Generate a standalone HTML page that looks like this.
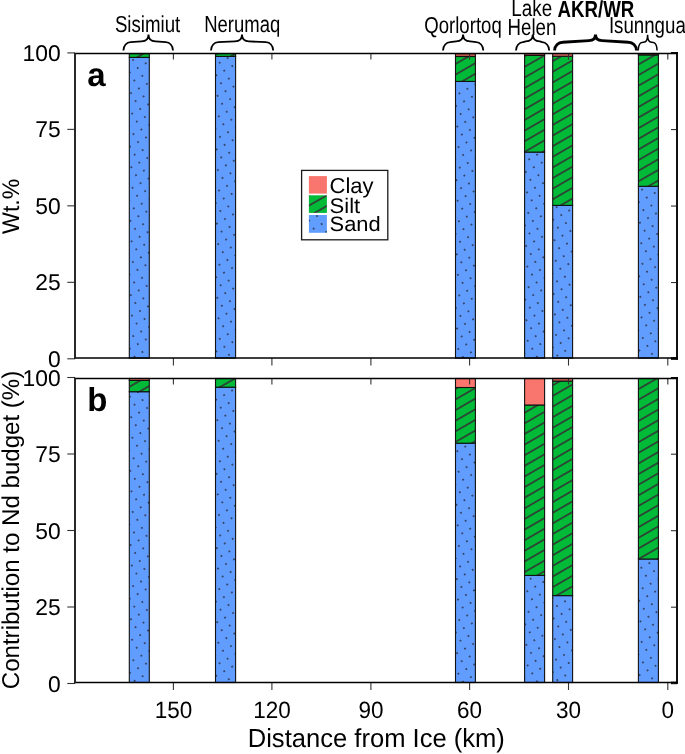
<!DOCTYPE html><html><head><meta charset="utf-8"><title>Grain size and Nd budget</title><style>
html,body{margin:0;padding:0;background:#fff;overflow:hidden;}
svg{display:block;}
text{font-family:"Liberation Sans", Arial, sans-serif;fill:#000;text-rendering:geometricPrecision;}
</style></head><body>
<svg width="685" height="754" viewBox="0 0 685 754">
<defs>
<pattern id="stripe" patternUnits="userSpaceOnUse" width="9.2" height="9.2" patternTransform="rotate(-30)">
<rect width="9.2" height="9.2" fill="#00BA38"/>
<line x1="0" y1="4.6" x2="9.2" y2="4.6" stroke="#333" stroke-width="1.6"/>
</pattern>
<pattern id="dots" patternUnits="userSpaceOnUse" width="9.2" height="9.2" patternTransform="rotate(-30)">
<rect width="9.2" height="9.2" fill="#619CFF"/>
<circle cx="4.6" cy="4.6" r="0.9" fill="#2a2c3a"/>
</pattern>
</defs>
<rect width="685" height="754" fill="#fff"/>
<pattern id="da1" href="#dots" patternTransform="translate(141.75,203.70) rotate(-30) translate(-4.6,-4.6)"/>
<rect x="129.3" y="57.4" width="20" height="300.7" fill="url(#da1)" stroke="#111" stroke-width="1.1"/>
<pattern id="sa1" href="#stripe" patternTransform="translate(139.30,56.00) rotate(-30) translate(0,-4.6)"/>
<rect x="129.3" y="53.6" width="20" height="3.8" fill="url(#sa1)" stroke="#111" stroke-width="1.1"/>
<pattern id="da2" href="#dots" patternTransform="translate(222.80,252.10) rotate(-30) translate(-4.6,-4.6)"/>
<rect x="215.5" y="56.4" width="20.1" height="301.7" fill="url(#da2)" stroke="#111" stroke-width="1.1"/>
<pattern id="sa2" href="#stripe" patternTransform="translate(225.55,59.40) rotate(-30) translate(0,-4.6)"/>
<rect x="215.5" y="53.6" width="20.1" height="2.8" fill="url(#sa2)" stroke="#111" stroke-width="1.1"/>
<pattern id="da3" href="#dots" patternTransform="translate(469.30,257.70) rotate(-30) translate(-4.6,-4.6)"/>
<rect x="455.5" y="81.4" width="19.9" height="276.7" fill="url(#da3)" stroke="#111" stroke-width="1.1"/>
<pattern id="sa3" href="#stripe" patternTransform="translate(465.45,68.86) rotate(-30) translate(0,-4.6)"/>
<rect x="455.5" y="56.5" width="19.9" height="24.9" fill="url(#sa3)" stroke="#111" stroke-width="1.1"/>
<rect x="455.5" y="53.6" width="19.9" height="2.9" fill="#C65A50" stroke="#111" stroke-width="1.1"/>
<pattern id="da4" href="#dots" patternTransform="translate(538.70,249.40) rotate(-30) translate(-4.6,-4.6)"/>
<rect x="524.6" y="152.1" width="20" height="206" fill="url(#da4)" stroke="#111" stroke-width="1.1"/>
<pattern id="sa4" href="#stripe" patternTransform="translate(534.60,103.60) rotate(-30) translate(0,-4.6)"/>
<rect x="524.6" y="55.4" width="20" height="96.7" fill="url(#sa4)" stroke="#111" stroke-width="1.1"/>
<rect x="524.6" y="53.6" width="20" height="1.8" fill="#C65A50" stroke="#111" stroke-width="1.1"/>
<pattern id="da5" href="#dots" patternTransform="translate(559.10,248.20) rotate(-30) translate(-4.6,-4.6)"/>
<rect x="552.7" y="205.4" width="19.9" height="152.7" fill="url(#da5)" stroke="#111" stroke-width="1.1"/>
<pattern id="sa5" href="#stripe" patternTransform="translate(562.65,119.20) rotate(-30) translate(0,-4.6)"/>
<rect x="552.7" y="56.2" width="19.9" height="149.2" fill="url(#sa5)" stroke="#111" stroke-width="1.1"/>
<rect x="552.7" y="53.6" width="19.9" height="2.6" fill="#F8766D" stroke="#111" stroke-width="1.1"/>
<pattern id="da6" href="#dots" patternTransform="translate(645.85,251.20) rotate(-30) translate(-4.6,-4.6)"/>
<rect x="638.4" y="186.3" width="20" height="171.8" fill="url(#da6)" stroke="#111" stroke-width="1.1"/>
<pattern id="sa6" href="#stripe" patternTransform="translate(648.40,122.50) rotate(-30) translate(0,-4.6)"/>
<rect x="638.4" y="54.9" width="20" height="131.4" fill="url(#sa6)" stroke="#111" stroke-width="1.1"/>
<rect x="638.4" y="53.6" width="20" height="1.3" fill="#F8766D" stroke="#111" stroke-width="1.1"/>
<line x1="67.3" y1="52.9" x2="75" y2="52.9" stroke="#333" stroke-width="1.1"/>
<line x1="671" y1="53.1" x2="677" y2="53.1" stroke="#333" stroke-width="1.1"/>
<text transform="translate(60.65,60.95) scale(0.9983,1)" font-size="22.89" text-anchor="end" id="yta100">100</text>
<line x1="67.3" y1="129.375" x2="75" y2="129.375" stroke="#333" stroke-width="1.1"/>
<line x1="671" y1="129.575" x2="677" y2="129.575" stroke="#333" stroke-width="1.1"/>
<text transform="translate(60.65,137.43) scale(0.9983,1)" font-size="22.89" text-anchor="end" id="yta75">75</text>
<line x1="67.3" y1="205.85" x2="75" y2="205.85" stroke="#333" stroke-width="1.1"/>
<line x1="671" y1="206.05" x2="677" y2="206.05" stroke="#333" stroke-width="1.1"/>
<text transform="translate(60.65,213.90) scale(0.9983,1)" font-size="22.89" text-anchor="end" id="yta50">50</text>
<line x1="67.3" y1="282.325" x2="75" y2="282.325" stroke="#333" stroke-width="1.1"/>
<line x1="671" y1="282.525" x2="677" y2="282.525" stroke="#333" stroke-width="1.1"/>
<text transform="translate(60.65,290.38) scale(0.9983,1)" font-size="22.89" text-anchor="end" id="yta25">25</text>
<line x1="67.3" y1="358.8" x2="75" y2="358.8" stroke="#333" stroke-width="1.1"/>
<line x1="671" y1="359" x2="677" y2="359" stroke="#333" stroke-width="1.1"/>
<text transform="translate(60.65,366.85) scale(0.9983,1)" font-size="22.89" text-anchor="end" id="yta0">0</text>
<line x1="173.4" y1="53.6" x2="173.4" y2="59.6" stroke="#333" stroke-width="1.1"/>
<line x1="173.4" y1="358.1" x2="173.4" y2="365.6" stroke="#333" stroke-width="1.1"/>
<line x1="271.9" y1="53.6" x2="271.9" y2="59.6" stroke="#333" stroke-width="1.1"/>
<line x1="271.9" y1="358.1" x2="271.9" y2="365.6" stroke="#333" stroke-width="1.1"/>
<line x1="370.9" y1="53.6" x2="370.9" y2="59.6" stroke="#333" stroke-width="1.1"/>
<line x1="370.9" y1="358.1" x2="370.9" y2="365.6" stroke="#333" stroke-width="1.1"/>
<line x1="469.6" y1="53.6" x2="469.6" y2="59.6" stroke="#333" stroke-width="1.1"/>
<line x1="469.6" y1="358.1" x2="469.6" y2="365.6" stroke="#333" stroke-width="1.1"/>
<line x1="568.5" y1="53.6" x2="568.5" y2="59.6" stroke="#333" stroke-width="1.1"/>
<line x1="568.5" y1="358.1" x2="568.5" y2="365.6" stroke="#333" stroke-width="1.1"/>
<line x1="667.8" y1="53.6" x2="667.8" y2="59.6" stroke="#333" stroke-width="1.1"/>
<line x1="667.8" y1="358.1" x2="667.8" y2="365.6" stroke="#333" stroke-width="1.1"/>
<path d="M74.1,53.6 H677 M74.1,358.1 H677" stroke="#000" stroke-width="1.5" fill="none"/>
<path d="M75,52.95 V358.75" stroke="#1e1e1e" stroke-width="1.9" fill="none"/>
<path d="M677,52.1 V359.7" stroke="#111" stroke-width="2" fill="none"/>
<rect x="670.9" y="52.1" width="7" height="1.8" fill="#000"/>
<rect x="670.9" y="357.2" width="7" height="2.5" fill="#000"/>
<pattern id="db1" href="#dots" patternTransform="translate(138.90,614.60) rotate(-30) translate(-4.6,-4.6)"/>
<rect x="129.3" y="391.7" width="20" height="290.8" fill="url(#db1)" stroke="#111" stroke-width="1.1"/>
<pattern id="sb1" href="#stripe" patternTransform="translate(139.30,381.10) rotate(-30) translate(0,-4.6)"/>
<rect x="129.3" y="380.4" width="20" height="11.3" fill="url(#sb1)" stroke="#111" stroke-width="1.1"/>
<rect x="129.3" y="378.5" width="20" height="1.9" fill="#F8766D" stroke="#111" stroke-width="1.1"/>
<pattern id="db2" href="#dots" patternTransform="translate(225.10,617.60) rotate(-30) translate(-4.6,-4.6)"/>
<rect x="215.5" y="387.2" width="20.1" height="295.3" fill="url(#db2)" stroke="#111" stroke-width="1.1"/>
<pattern id="sb2" href="#stripe" patternTransform="translate(225.55,383.90) rotate(-30) translate(0,-4.6)"/>
<rect x="215.5" y="378.5" width="20.1" height="8.7" fill="url(#sb2)" stroke="#111" stroke-width="1.1"/>
<pattern id="db3" href="#dots" patternTransform="translate(462.60,607.50) rotate(-30) translate(-4.6,-4.6)"/>
<rect x="455.5" y="443.2" width="19.9" height="239.3" fill="url(#db3)" stroke="#111" stroke-width="1.1"/>
<pattern id="sb3" href="#stripe" patternTransform="translate(465.45,414.96) rotate(-30) translate(0,-4.6)"/>
<rect x="455.5" y="387.5" width="19.9" height="55.7" fill="url(#sb3)" stroke="#111" stroke-width="1.1"/>
<rect x="455.5" y="378.5" width="19.9" height="9" fill="#F8766D" stroke="#111" stroke-width="1.1"/>
<pattern id="db4" href="#dots" patternTransform="translate(536.50,607.20) rotate(-30) translate(-4.6,-4.6)"/>
<rect x="524.6" y="575.4" width="20" height="107.1" fill="url(#db4)" stroke="#111" stroke-width="1.1"/>
<pattern id="sb4" href="#stripe" patternTransform="translate(534.60,428.20) rotate(-30) translate(0,-4.6)"/>
<rect x="524.6" y="405" width="20" height="170.4" fill="url(#sb4)" stroke="#111" stroke-width="1.1"/>
<rect x="524.6" y="378.5" width="20" height="26.5" fill="#F8766D" stroke="#111" stroke-width="1.1"/>
<pattern id="db5" href="#dots" patternTransform="translate(561.60,613.90) rotate(-30) translate(-4.6,-4.6)"/>
<rect x="552.7" y="595.6" width="19.9" height="86.9" fill="url(#db5)" stroke="#111" stroke-width="1.1"/>
<pattern id="sb5" href="#stripe" patternTransform="translate(562.65,485.80) rotate(-30) translate(0,-4.6)"/>
<rect x="552.7" y="381" width="19.9" height="214.6" fill="url(#sb5)" stroke="#111" stroke-width="1.1"/>
<rect x="552.7" y="378.5" width="19.9" height="2.5" fill="#F8766D" stroke="#111" stroke-width="1.1"/>
<pattern id="db6" href="#dots" patternTransform="translate(643.85,608.80) rotate(-30) translate(-4.6,-4.6)"/>
<rect x="638.4" y="559" width="20" height="123.5" fill="url(#db6)" stroke="#111" stroke-width="1.1"/>
<pattern id="sb6" href="#stripe" patternTransform="translate(648.40,457.75) rotate(-30) translate(0,-4.6)"/>
<rect x="638.4" y="378.5" width="20" height="180.5" fill="url(#sb6)" stroke="#111" stroke-width="1.1"/>
<line x1="67.3" y1="377.5" x2="75" y2="377.5" stroke="#333" stroke-width="1.1"/>
<line x1="671" y1="377.7" x2="677" y2="377.7" stroke="#333" stroke-width="1.1"/>
<text transform="translate(60.65,385.55) scale(0.9983,1)" font-size="22.89" text-anchor="end" id="ytb100">100</text>
<line x1="67.3" y1="454" x2="75" y2="454" stroke="#333" stroke-width="1.1"/>
<line x1="671" y1="454.2" x2="677" y2="454.2" stroke="#333" stroke-width="1.1"/>
<text transform="translate(60.65,462.05) scale(0.9983,1)" font-size="22.89" text-anchor="end" id="ytb75">75</text>
<line x1="67.3" y1="530.5" x2="75" y2="530.5" stroke="#333" stroke-width="1.1"/>
<line x1="671" y1="530.7" x2="677" y2="530.7" stroke="#333" stroke-width="1.1"/>
<text transform="translate(60.65,538.55) scale(0.9983,1)" font-size="22.89" text-anchor="end" id="ytb50">50</text>
<line x1="67.3" y1="607" x2="75" y2="607" stroke="#333" stroke-width="1.1"/>
<line x1="671" y1="607.2" x2="677" y2="607.2" stroke="#333" stroke-width="1.1"/>
<text transform="translate(60.65,615.05) scale(0.9983,1)" font-size="22.89" text-anchor="end" id="ytb25">25</text>
<line x1="67.3" y1="683.5" x2="75" y2="683.5" stroke="#333" stroke-width="1.1"/>
<line x1="671" y1="683.7" x2="677" y2="683.7" stroke="#333" stroke-width="1.1"/>
<text transform="translate(60.65,691.55) scale(0.9983,1)" font-size="22.89" text-anchor="end" id="ytb0">0</text>
<line x1="173.4" y1="378.5" x2="173.4" y2="384.5" stroke="#333" stroke-width="1.1"/>
<line x1="173.4" y1="682.5" x2="173.4" y2="690" stroke="#333" stroke-width="1.1"/>
<text transform="translate(173.40,718.18) scale(0.9498,1)" font-size="23.69" text-anchor="middle" id="xt150">150</text>
<line x1="271.9" y1="378.5" x2="271.9" y2="384.5" stroke="#333" stroke-width="1.1"/>
<line x1="271.9" y1="682.5" x2="271.9" y2="690" stroke="#333" stroke-width="1.1"/>
<text transform="translate(271.90,718.18) scale(0.9498,1)" font-size="23.69" text-anchor="middle" id="xt120">120</text>
<line x1="370.9" y1="378.5" x2="370.9" y2="384.5" stroke="#333" stroke-width="1.1"/>
<line x1="370.9" y1="682.5" x2="370.9" y2="690" stroke="#333" stroke-width="1.1"/>
<text transform="translate(370.90,718.18) scale(0.9498,1)" font-size="23.69" text-anchor="middle" id="xt90">90</text>
<line x1="469.6" y1="378.5" x2="469.6" y2="384.5" stroke="#333" stroke-width="1.1"/>
<line x1="469.6" y1="682.5" x2="469.6" y2="690" stroke="#333" stroke-width="1.1"/>
<text transform="translate(469.60,718.18) scale(0.9498,1)" font-size="23.69" text-anchor="middle" id="xt60">60</text>
<line x1="568.5" y1="378.5" x2="568.5" y2="384.5" stroke="#333" stroke-width="1.1"/>
<line x1="568.5" y1="682.5" x2="568.5" y2="690" stroke="#333" stroke-width="1.1"/>
<text transform="translate(568.50,718.18) scale(0.9498,1)" font-size="23.69" text-anchor="middle" id="xt30">30</text>
<line x1="667.8" y1="378.5" x2="667.8" y2="384.5" stroke="#333" stroke-width="1.1"/>
<line x1="667.8" y1="682.5" x2="667.8" y2="690" stroke="#333" stroke-width="1.1"/>
<text transform="translate(667.80,718.18) scale(0.9498,1)" font-size="23.69" text-anchor="middle" id="xt0">0</text>
<path d="M74.1,378.5 H677 M74.1,682.5 H677" stroke="#000" stroke-width="1.5" fill="none"/>
<path d="M75,377.85 V683.15" stroke="#1e1e1e" stroke-width="1.9" fill="none"/>
<path d="M677,377.1 V683.7" stroke="#111" stroke-width="2" fill="none"/>
<rect x="670.9" y="377.1" width="7" height="1.9" fill="#000"/>
<rect x="670.9" y="681.7" width="7" height="2" fill="#000"/>
<rect x="301.6" y="170.4" width="86.2" height="69.4" fill="#fff" stroke="#1a1a1a" stroke-width="1.3"/>
<rect x="308.9" y="176.1" width="18" height="17.5" fill="#F8766D"/>
<pattern id="sleg" href="#stripe" patternTransform="translate(317.85,200.5) rotate(-30) translate(0,-4.6)"/>
<pattern id="dleg" href="#dots" patternTransform="translate(321.6,224.0) rotate(-30) translate(-4.6,-4.6)"/>
<rect x="308.9" y="195.3" width="18" height="17.6" fill="url(#sleg)"/>
<rect x="308.9" y="215" width="18" height="17.8" fill="url(#dleg)"/>
<path d="M123.40,50.50 C123.40,45.52 126.90,42.20 130.40,42.20 L141.50,41.40 C145.70,41.40 148.50,39.02 148.50,34.60 M173.00,50.50 C173.00,45.52 169.50,42.20 166.00,42.20 L155.50,41.40 C151.30,41.40 148.50,39.02 148.50,34.60" fill="none" stroke="#000" stroke-width="1.8" stroke-linejoin="round"/>
<path d="M211.00,50.50 C211.00,45.52 214.50,42.20 218.00,42.20 L235.00,41.40 C239.20,41.40 242.00,39.02 242.00,34.60 M273.20,50.50 C273.20,45.52 269.70,42.20 266.20,42.20 L249.00,41.40 C244.80,41.40 242.00,39.02 242.00,34.60" fill="none" stroke="#000" stroke-width="1.8" stroke-linejoin="round"/>
<path d="M443.00,50.50 C443.00,45.52 446.50,42.20 450.00,42.20 L456.10,41.40 C460.30,41.40 463.10,39.02 463.10,34.60 M483.30,50.50 C483.30,45.52 479.80,42.20 476.30,42.20 L470.10,41.40 C465.90,41.40 463.10,39.02 463.10,34.60" fill="none" stroke="#000" stroke-width="1.8" stroke-linejoin="round"/>
<path d="M516.00,50.50 C516.00,45.52 519.50,42.20 523.00,42.20 L525.80,41.40 C530.00,41.40 532.80,39.02 532.80,34.60 M549.20,50.50 C549.20,45.52 545.70,42.20 542.20,42.20 L539.80,41.40 C535.60,41.40 532.80,39.02 532.80,34.60" fill="none" stroke="#000" stroke-width="1.8" stroke-linejoin="round"/>
<path d="M554.60,50.50 C554.60,45.52 558.60,42.20 562.60,42.20 L589.00,40.60 C592.90,40.60 595.50,38.50 595.50,34.60 M636.50,50.50 C636.50,45.52 632.50,42.20 628.50,42.20 L602.00,40.60 C598.10,40.60 595.50,38.50 595.50,34.60" fill="none" stroke="#000" stroke-width="2.9" stroke-linejoin="round"/>
<path d="M638.20,50.50 C638.20,45.76 640.00,42.60 641.80,42.60 L643.60,42.20 C646.00,42.20 647.60,39.58 647.60,34.70 M657.10,50.50 C657.10,45.76 655.30,42.60 653.50,42.60 L651.60,42.20 C649.20,42.20 647.60,39.58 647.60,34.70" fill="none" stroke="#000" stroke-width="1.5" stroke-linejoin="round"/>
<text transform="translate(114.90,32.20) scale(0.8086,1)" font-size="23.10" id="sis">Sisimiut</text>
<text transform="translate(204.18,31.90) scale(0.8011,1)" font-size="23.10" id="ner">Nerumaq</text>
<text transform="translate(424.25,32.80) scale(0.8051,1)" font-size="23.10" id="qor">Qorlortoq</text>
<text transform="translate(511.37,15.70) scale(0.8157,1)" font-size="23.10" id="lake">Lake</text>
<text transform="translate(507.52,34.70) scale(0.8083,1)" font-size="23.10" id="hel">Helen</text>
<text transform="translate(557.51,16.80) scale(0.8082,1)" font-size="23.10" font-weight="bold" id="akr">AKR/WR</text>
<text transform="translate(608.88,32.70) scale(0.8096,1)" font-size="23.10" id="isu">Isunngua</text>
<text transform="translate(329.54,193.29) scale(1.0183,1)" font-size="21.61" id="clay">Clay</text>
<text transform="translate(329.54,212.82) scale(1.0485,1)" font-size="21.08" id="silt">Silt</text>
<text transform="translate(329.58,230.54) scale(1.0501,1)" font-size="20.85" id="sand">Sand</text>
<text transform="translate(376.31,747.21) scale(0.9799,1)" font-size="26.10" text-anchor="middle" id="xt">Distance from Ice (km)</text>
<text transform="translate(18.67,206.32) rotate(-90) scale(0.9597,1)" font-size="24.07" text-anchor="middle" id="yta">Wt.%</text>
<text transform="translate(19.38,529.99) rotate(-90) scale(0.9909,1)" font-size="24.31" text-anchor="middle" id="ytb">Contribution to Nd budget (%)</text>
<text transform="translate(87.30,85.50)" font-size="33.00" font-weight="bold" id="pa">a</text>
<text transform="translate(87.30,411.10)" font-size="33.00" font-weight="bold" id="pb">b</text>
</svg></body></html>
